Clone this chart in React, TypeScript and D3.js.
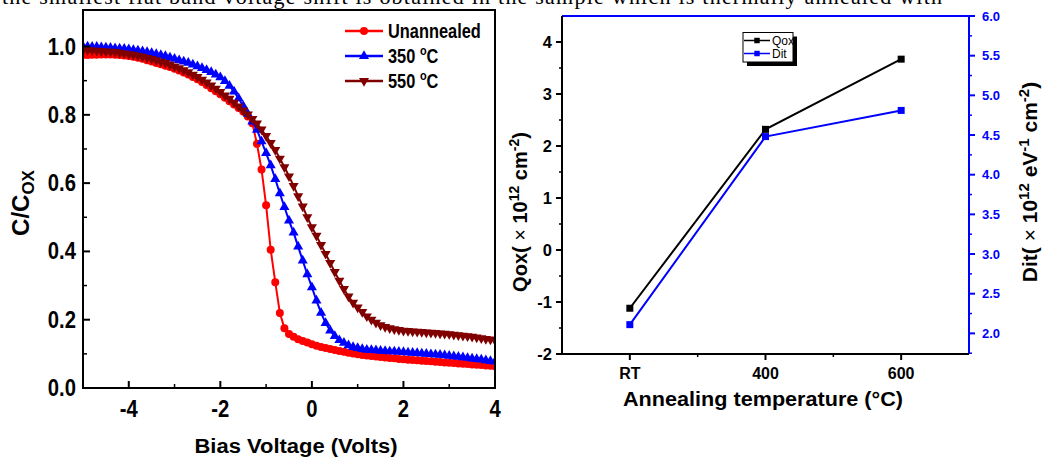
import React from 'react';
import * as d3 from 'd3';

// C-V curves, bias voltage from -5 V to 4 V in 0.1 V steps
const biasVoltage = d3.range(-50, 41).map(i => i / 10);

const unannealed = [
  0.975, 0.975, 0.976, 0.976, 0.977, 0.977, 0.977, 0.976, 0.975, 0.974,
  0.972, 0.970, 0.967, 0.964, 0.960, 0.956, 0.952, 0.948, 0.944, 0.940,
  0.935, 0.930, 0.924, 0.918, 0.911, 0.904, 0.896, 0.887, 0.878, 0.869,
  0.860, 0.850, 0.840, 0.830, 0.820, 0.810, 0.795, 0.775, 0.715, 0.640,
  0.535, 0.405, 0.310, 0.220, 0.175, 0.158, 0.150, 0.143, 0.138, 0.133,
  0.128, 0.124, 0.120, 0.117, 0.114, 0.111, 0.108, 0.106, 0.103, 0.101,
  0.099, 0.097, 0.095, 0.094, 0.092, 0.091, 0.089, 0.088, 0.087, 0.085,
  0.084, 0.083, 0.082, 0.081, 0.080, 0.079, 0.078, 0.077, 0.076, 0.075,
  0.074, 0.073, 0.072, 0.071, 0.070, 0.069, 0.068, 0.067, 0.066, 0.065,
  0.064,
];

const annealed350 = [
  1.000, 1.000, 0.999, 0.999, 0.998, 0.997, 0.996, 0.995, 0.994, 0.993,
  0.992, 0.990, 0.988, 0.986, 0.984, 0.981, 0.978, 0.975, 0.972, 0.968,
  0.964, 0.960, 0.956, 0.952, 0.947, 0.942, 0.937, 0.931, 0.925, 0.918,
  0.910, 0.899, 0.885, 0.868, 0.848, 0.826, 0.803, 0.780, 0.756, 0.722,
  0.688, 0.652, 0.612, 0.570, 0.530, 0.490, 0.455, 0.414, 0.373, 0.333,
  0.295, 0.256, 0.220, 0.190, 0.168, 0.152, 0.140, 0.132, 0.125, 0.120,
  0.117, 0.114, 0.112, 0.111, 0.110, 0.109, 0.108, 0.107, 0.107, 0.106,
  0.105, 0.104, 0.103, 0.102, 0.101, 0.100, 0.099, 0.098, 0.097, 0.096,
  0.094, 0.093, 0.091, 0.090, 0.088, 0.086, 0.085, 0.083, 0.081, 0.079,
  0.077,
];

const annealed550 = [
  0.990, 0.990, 0.989, 0.988, 0.987, 0.986, 0.985, 0.984, 0.982, 0.980,
  0.978, 0.976, 0.973, 0.970, 0.967, 0.964, 0.960, 0.956, 0.952, 0.947,
  0.942, 0.937, 0.931, 0.925, 0.918, 0.911, 0.903, 0.895, 0.886, 0.877,
  0.867, 0.857, 0.847, 0.836, 0.825, 0.813, 0.801, 0.788, 0.775, 0.757,
  0.738, 0.718, 0.697, 0.672, 0.647, 0.620, 0.592, 0.562, 0.532, 0.500,
  0.471, 0.446, 0.419, 0.393, 0.366, 0.340, 0.314, 0.290, 0.268, 0.250,
  0.236, 0.223, 0.210, 0.200, 0.191, 0.184, 0.179, 0.175, 0.172, 0.170,
  0.168, 0.167, 0.166, 0.165, 0.164, 0.163, 0.162, 0.161, 0.160, 0.159,
  0.158, 0.156, 0.155, 0.153, 0.152, 0.150, 0.148, 0.146, 0.144, 0.142,
  0.140,
];

const cvSeries = [
  { label: 'Unannealed', deg: false, values: unannealed, color: '#ff0000', marker: 'circle' },
  { label: '350 ', deg: true, values: annealed350, color: '#0000ff', marker: 'up' },
  { label: '550 ', deg: true, values: annealed550, color: '#800000', marker: 'down' },
];

// Qox / Dit vs annealing temperature
const tempCategories = ['RT', '400', '600'];
const qoxValues = [-1.12, 2.32, 3.67];
const ditValues = [2.11, 4.48, 4.81];

const FONT = '"Liberation Sans", Arial, Helvetica, sans-serif';

function Marker({ type, x, y, color }: { type: string; x: number; y: number; color: string }) {
  if (type === 'circle') return <circle cx={x} cy={y} r={4} fill={color} />;
  const d = d3.symbol(d3.symbolTriangle, 44)() as string;
  return (
    <path d={d} fill={color}
      transform={`translate(${x},${y})${type === 'down' ? ' rotate(180)' : ''}`} />
  );
}

function CVPanel() {
  const left = 83, right = 495, top = 10, bottom = 388;
  const x = d3.scaleLinear().domain([-5, 4]).range([left, right]);
  const y = d3.scaleLinear().domain([0, 1.107]).range([bottom, top]);
  const line = d3.line<number>().x((_, i) => x(biasVoltage[i])).y(d => y(d));

  const xMajor = [-4, -2, 0, 2, 4];
  const xMinor = [-3, -1, 1, 3];
  const yMajor = [0, 0.2, 0.4, 0.6, 0.8, 1.0];
  const yMinor = [0.1, 0.3, 0.5, 0.7, 0.9];

  return (
    <g fontFamily={FONT} fontWeight="bold">
      <defs>
        <clipPath id="cvclip">
          <rect x={left} y={top} width={right - left} height={bottom - top} />
        </clipPath>
      </defs>
      <g clipPath="url(#cvclip)">
        {cvSeries.map(s => (
          <g key={s.label}>
            <path d={line(s.values) as string} fill="none" stroke={s.color} strokeWidth={2} />
            {s.values.map((v, i) => (
              <Marker key={i} type={s.marker} x={x(biasVoltage[i])} y={y(v)} color={s.color} />
            ))}
          </g>
        ))}
      </g>
      <rect x={left} y={top} width={right - left} height={bottom - top} fill="none" stroke="#000" strokeWidth={2} />
      {xMajor.map(t => <line key={'xM' + t} x1={x(t)} x2={x(t)} y1={bottom} y2={bottom - 7} stroke="#000" strokeWidth={2} />)}
      {xMinor.map(t => <line key={'xm' + t} x1={x(t)} x2={x(t)} y1={bottom} y2={bottom - 4} stroke="#000" strokeWidth={1.5} />)}
      {yMajor.map(t => <line key={'yM' + t} x1={left} x2={left + 7} y1={y(t)} y2={y(t)} stroke="#000" strokeWidth={2} />)}
      {yMinor.map(t => <line key={'ym' + t} x1={left} x2={left + 4} y1={y(t)} y2={y(t)} stroke="#000" strokeWidth={1.5} />)}
      {xMajor.map(t => (
        <text key={'xl' + t} transform={`translate(${x(t)},417) scale(0.88,1)`} textAnchor="middle" fontSize={23}>
          {t < 0 ? '-' + Math.abs(t) : t}
        </text>
      ))}
      {yMajor.map(t => (
        <text key={'yl' + t} transform={`translate(76,${y(t) + 8}) scale(0.88,1)`} textAnchor="end" fontSize={23}>
          {t.toFixed(1)}
        </text>
      ))}
      <text x={296} y={453} textAnchor="middle" fontSize={20} textLength={203} lengthAdjust="spacingAndGlyphs">
        Bias Voltage (Volts)
      </text>
      <text transform="translate(29,203) rotate(-90)" textAnchor="middle" fontSize={24}>
        C/C<tspan fontSize={17} dy={5}>OX</tspan>
      </text>
      {cvSeries.map((s, i) => {
        const ly = 31 + i * 25;
        return (
          <g key={'lg' + s.label}>
            <line x1={345} x2={383} y1={ly} y2={ly} stroke={s.color} strokeWidth={2.5} />
            <Marker type={s.marker} x={364} y={ly} color={s.color} />
            <text transform={`translate(388,${ly + 7}) scale(0.84,1)`} fontSize={19.5}>
              {s.label}
              {s.deg && <tspan fontSize={13} dy={-8}>o</tspan>}
              {s.deg && <tspan dy={8}>C</tspan>}
            </text>
          </g>
        );
      })}
    </g>
  );
}

function ChargePanel() {
  const left = 562, right = 969, top = 16, bottom = 354;
  const blue = '#0000ff';
  const x = d3.scaleLinear().domain([0.5, 3.5]).range([left, right]);
  const yQ = d3.scaleLinear().domain([-2, 4.5]).range([bottom, top]);
  const yD = d3.scaleLinear().domain([1.74, 6]).range([bottom, top]);
  const qLine = d3.line<number>().x((_, i) => x(i + 1)).y(d => yQ(d));
  const dLine = d3.line<number>().x((_, i) => x(i + 1)).y(d => yD(d));
  const sq = d3.symbol(d3.symbolSquare, 49)() as string;
  const sqSmall = d3.symbol(d3.symbolSquare, 30)() as string;

  const qMajor = d3.range(-2, 5, 1);
  const qMinor = d3.range(-1.5, 4.5, 1);
  const dMajor = d3.range(2, 6.01, 0.5);
  const dMinor = d3.range(1.75, 6, 0.5);

  return (
    <g fontFamily={FONT} fontWeight="bold">
      <path d={qLine(qoxValues) as string} fill="none" stroke="#000" strokeWidth={2} />
      <path d={dLine(ditValues) as string} fill="none" stroke={blue} strokeWidth={2} />
      {qoxValues.map((v, i) => <path key={'q' + i} d={sq} transform={`translate(${x(i + 1)},${yQ(v)})`} fill="#000" />)}
      {ditValues.map((v, i) => <path key={'d' + i} d={sq} transform={`translate(${x(i + 1)},${yD(v)})`} fill={blue} />)}

      <line x1={left} x2={right} y1={top} y2={top} stroke={blue} strokeWidth={2} />
      <line x1={right} x2={right} y1={top} y2={bottom} stroke={blue} strokeWidth={2} />
      <line x1={left} x2={left} y1={top} y2={bottom} stroke="#000" strokeWidth={2} />
      <line x1={left} x2={right} y1={bottom} y2={bottom} stroke="#000" strokeWidth={2} />

      {qMajor.map(t => <line key={'qM' + t} x1={left - 6} x2={left} y1={yQ(t)} y2={yQ(t)} stroke="#000" strokeWidth={2} />)}
      {qMinor.map(t => <line key={'qm' + t} x1={left - 3} x2={left} y1={yQ(t)} y2={yQ(t)} stroke="#000" strokeWidth={1.5} />)}
      {qMajor.map(t => (
        <text key={'ql' + t} x={552} y={yQ(t) + 6} textAnchor="end" fontSize={16.5}>{t}</text>
      ))}

      {dMajor.map(t => <line key={'dM' + t} x1={right} x2={right + 6} y1={yD(t)} y2={yD(t)} stroke={blue} strokeWidth={2} />)}
      {dMinor.map(t => <line key={'dm' + t} x1={right} x2={right + 3} y1={yD(t)} y2={yD(t)} stroke={blue} strokeWidth={1.5} />)}
      {dMajor.map(t => (
        <text key={'dl' + t} x={982} y={yD(t) + 4.5} fontSize={13} fill={blue}>{t.toFixed(1)}</text>
      ))}

      {tempCategories.map((c, i) => <line key={'tM' + c} x1={x(i + 1)} x2={x(i + 1)} y1={bottom} y2={bottom + 6} stroke="#000" strokeWidth={2} />)}
      {[1.5, 2.5].map(t => <line key={'tm' + t} x1={x(t)} x2={x(t)} y1={bottom} y2={bottom + 3} stroke="#000" strokeWidth={1.5} />)}
      {tempCategories.map((c, i) => (
        <text key={'tl' + c} x={x(i + 1)} y={379} textAnchor="middle" fontSize={16}>{c}</text>
      ))}

      <text x={763} y={406} textAnchor="middle" fontSize={20.5} textLength={280} lengthAdjust="spacingAndGlyphs">
        Annealing temperature (°C)
      </text>
      <text transform="translate(527,212) rotate(-90)" textAnchor="middle" fontSize={20}>
        Qox(<tspan fontWeight="normal"> × </tspan>10<tspan fontSize={14} dy={-8}>12</tspan>
        <tspan dy={8}> cm</tspan><tspan fontSize={14} dy={-8}>-2</tspan><tspan dy={8}>)</tspan>
      </text>
      <text transform="translate(1037,182) rotate(-90)" textAnchor="middle" fontSize={21}>
        Dit(<tspan fontWeight="normal"> × </tspan>10<tspan fontSize={15} dy={-8}>12</tspan>
        <tspan dy={8}> eV</tspan><tspan fontSize={15} dy={-8}>-1</tspan>
        <tspan dy={8}> cm</tspan><tspan fontSize={15} dy={-8}>-2</tspan><tspan dy={8}>)</tspan>
      </text>

      <g fontWeight="normal">
        <rect x={747} y={36.5} width={50} height={29.5} fill="#000" />
        <rect x={743} y={32.5} width={50} height={29.5} fill="#fff" stroke="#000" strokeWidth={1} />
        <line x1={744} x2={770} y1={40.5} y2={40.5} stroke="#000" strokeWidth={1.5} />
        <path d={sqSmall} transform="translate(757,40.5)" fill="#000" />
        <text x={772} y={45} fontSize={12}>Qox</text>
        <line x1={744} x2={770} y1={53.5} y2={53.5} stroke={blue} strokeWidth={1.5} />
        <path d={sqSmall} transform="translate(757,53.5)" fill={blue} />
        <text x={772} y={58} fontSize={12}>Dit</text>
      </g>
    </g>
  );
}

export default function App() {
  return (
    <svg width={1045} height={462} style={{ position: 'absolute', left: 0, top: 0, background: '#fff' }}>
      <rect width={1045} height={462} fill="#fff" />
      <text x={2} y={4} fontFamily='"Liberation Serif", "Times New Roman", serif' fontSize={22}
        textLength={940} lengthAdjust="spacing">
        the smallest flat band voltage shift is obtained in the sample which is thermally annealed with
      </text>
      <CVPanel />
      <ChargePanel />
    </svg>
  );
}
